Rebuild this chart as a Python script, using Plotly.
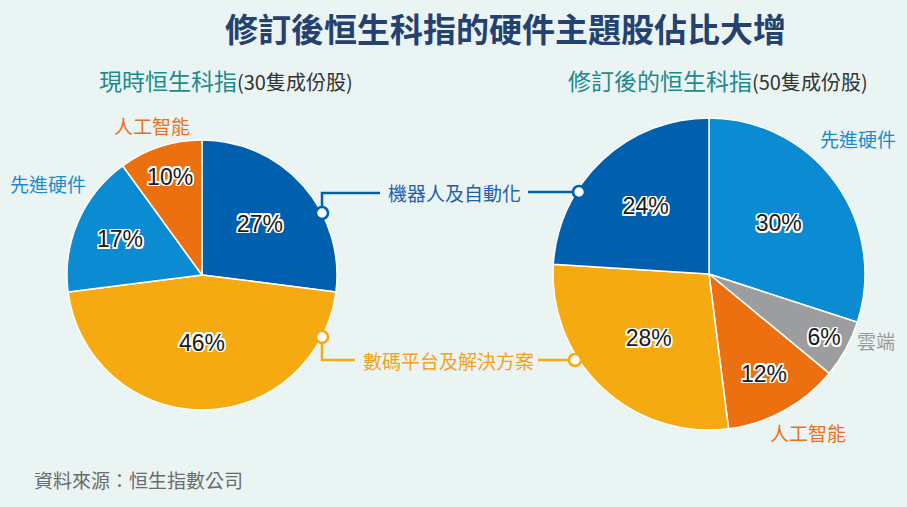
import plotly.graph_objects as go

# data
left_labels = ["機器人及自動化", "數碼平台及解決方案", "先進硬件", "人工智能"]
left_values = [27, 46, 17, 10]

right_labels = ["先進硬件", "雲端", "人工智能", "數碼平台及解決方案", "機器人及自動化"]
right_values = [30, 6, 12, 28, 24]

colors = {
    "機器人及自動化": "#0060AE",
    "數碼平台及解決方案": "#F6AA12",
    "先進硬件": "#0A8BD2",
    "人工智能": "#EC6F10",
    "雲端": "#9B9D9E",
}
text_colors = {
    "機器人及自動化": "#1F5FAD",
    "數碼平台及解決方案": "#F2A31A",
    "先進硬件": "#1A8BD0",
    "人工智能": "#E8701E",
    "雲端": "#9A9A9A",
}

W, H = 907, 507
BG = "#EAF4F3"
CJK = "Noto Sans CJK TC"


def px(x):
    return x / W


def py(y):
    return 1 - y / H


# white halo round the percentage labels
outline = ", ".join(f"{dx}px {dy}px 0 #fff"
                    for dx in (-1.5, 0, 1.5) for dy in (-1.5, 0, 1.5) if dx or dy)

fig = go.Figure()

for labels, values, dom in [
    (left_labels, left_values, dict(x=[px(67), px(337)], y=[py(410), py(140)])),
    (right_labels, right_values, dict(x=[px(553), px(865)], y=[py(430), py(118)])),
]:
    fig.add_trace(go.Pie(
        labels=labels,
        values=values,
        domain=dom,
        sort=False,
        direction="clockwise",
        rotation=0,
        marker=dict(colors=[colors[l] for l in labels], line=dict(color="white", width=1.5)),
        texttemplate="%{value}%",
        textposition="inside",
        insidetextorientation="horizontal",
        textfont=dict(family="Liberation Sans", size=23, color="#1a1a1a", shadow=outline),
        hoverinfo="skip",
        showlegend=False,
    ))

annotations = [
    dict(x=px(505), y=py(28), text="<b>修訂後恒生科指的硬件主題股佔比大增</b>",
         font=dict(family=CJK, size=33, color="#24416F")),
    dict(x=px(97), y=py(80), xanchor="left",
         text="現時恒生科指<span style='color:#333333;font-size:20px'>(30隻成份股)</span>",
         font=dict(family=CJK, size=23, color="#1F8A8E")),
    dict(x=px(566), y=py(80), xanchor="left",
         text="修訂後的恒生科指<span style='color:#333333;font-size:20px'>(50隻成份股)</span>",
         font=dict(family=CJK, size=23, color="#1F8A8E")),
    dict(x=px(32), y=py(479), xanchor="left", text="資料來源：恒生指數公司",
         font=dict(family=CJK, size=19, color="#6B6B6B")),
]

# category labels around the pies
cat_pos = [
    ("人工智能", 152, 126),
    ("先進硬件", 48, 183),
    ("機器人及自動化", 455, 193),
    ("數碼平台及解決方案", 448, 360),
    ("先進硬件", 858, 138),
    ("雲端", 876, 340),
    ("人工智能", 808, 432),
]
for name, x, y in cat_pos:
    annotations.append(dict(x=px(x), y=py(y), text=name,
                            font=dict(family=CJK, size=19, color=text_colors[name])))

for a in annotations:
    a.update(xref="paper", yref="paper", showarrow=False, yanchor="middle")
    a.setdefault("xanchor", "center")

# leader lines with end dots
shapes = []
leaders = [
    ("機器人及自動化", [(322, 213), (322, 193), (380, 193)], [(528, 192), (579, 192)], [(322, 213), (579, 192)]),
    ("數碼平台及解決方案", [(322, 337), (322, 360), (355, 360)], [(538, 360), (575, 360)], [(322, 337), (575, 360)]),
]
for name, seg1, seg2, dots in leaders:
    c = colors[name]
    for seg in (seg1, seg2):
        path = "M " + " L ".join(f"{px(x)},{py(y)}" for x, y in seg)
        shapes.append(dict(type="path", path=path, xref="paper", yref="paper",
                           line=dict(color=c, width=2.5)))
    for x, y in dots:
        r = 6
        shapes.append(dict(type="circle", xref="paper", yref="paper",
                           x0=px(x - r), x1=px(x + r), y0=py(y + r), y1=py(y - r),
                           fillcolor="white", line=dict(color=c, width=2.5)))

fig.update_layout(
    width=W, height=H,
    margin=dict(l=0, r=0, t=0, b=0),
    paper_bgcolor=BG, plot_bgcolor=BG,
    annotations=annotations,
    shapes=shapes,
)

# page body has an 8px margin by default; drop it so the figure fills the window
fig.write_html("out.html", config={"displayModeBar": False},
               post_script="document.body.style.margin='0';document.body.style.overflow='hidden';")
